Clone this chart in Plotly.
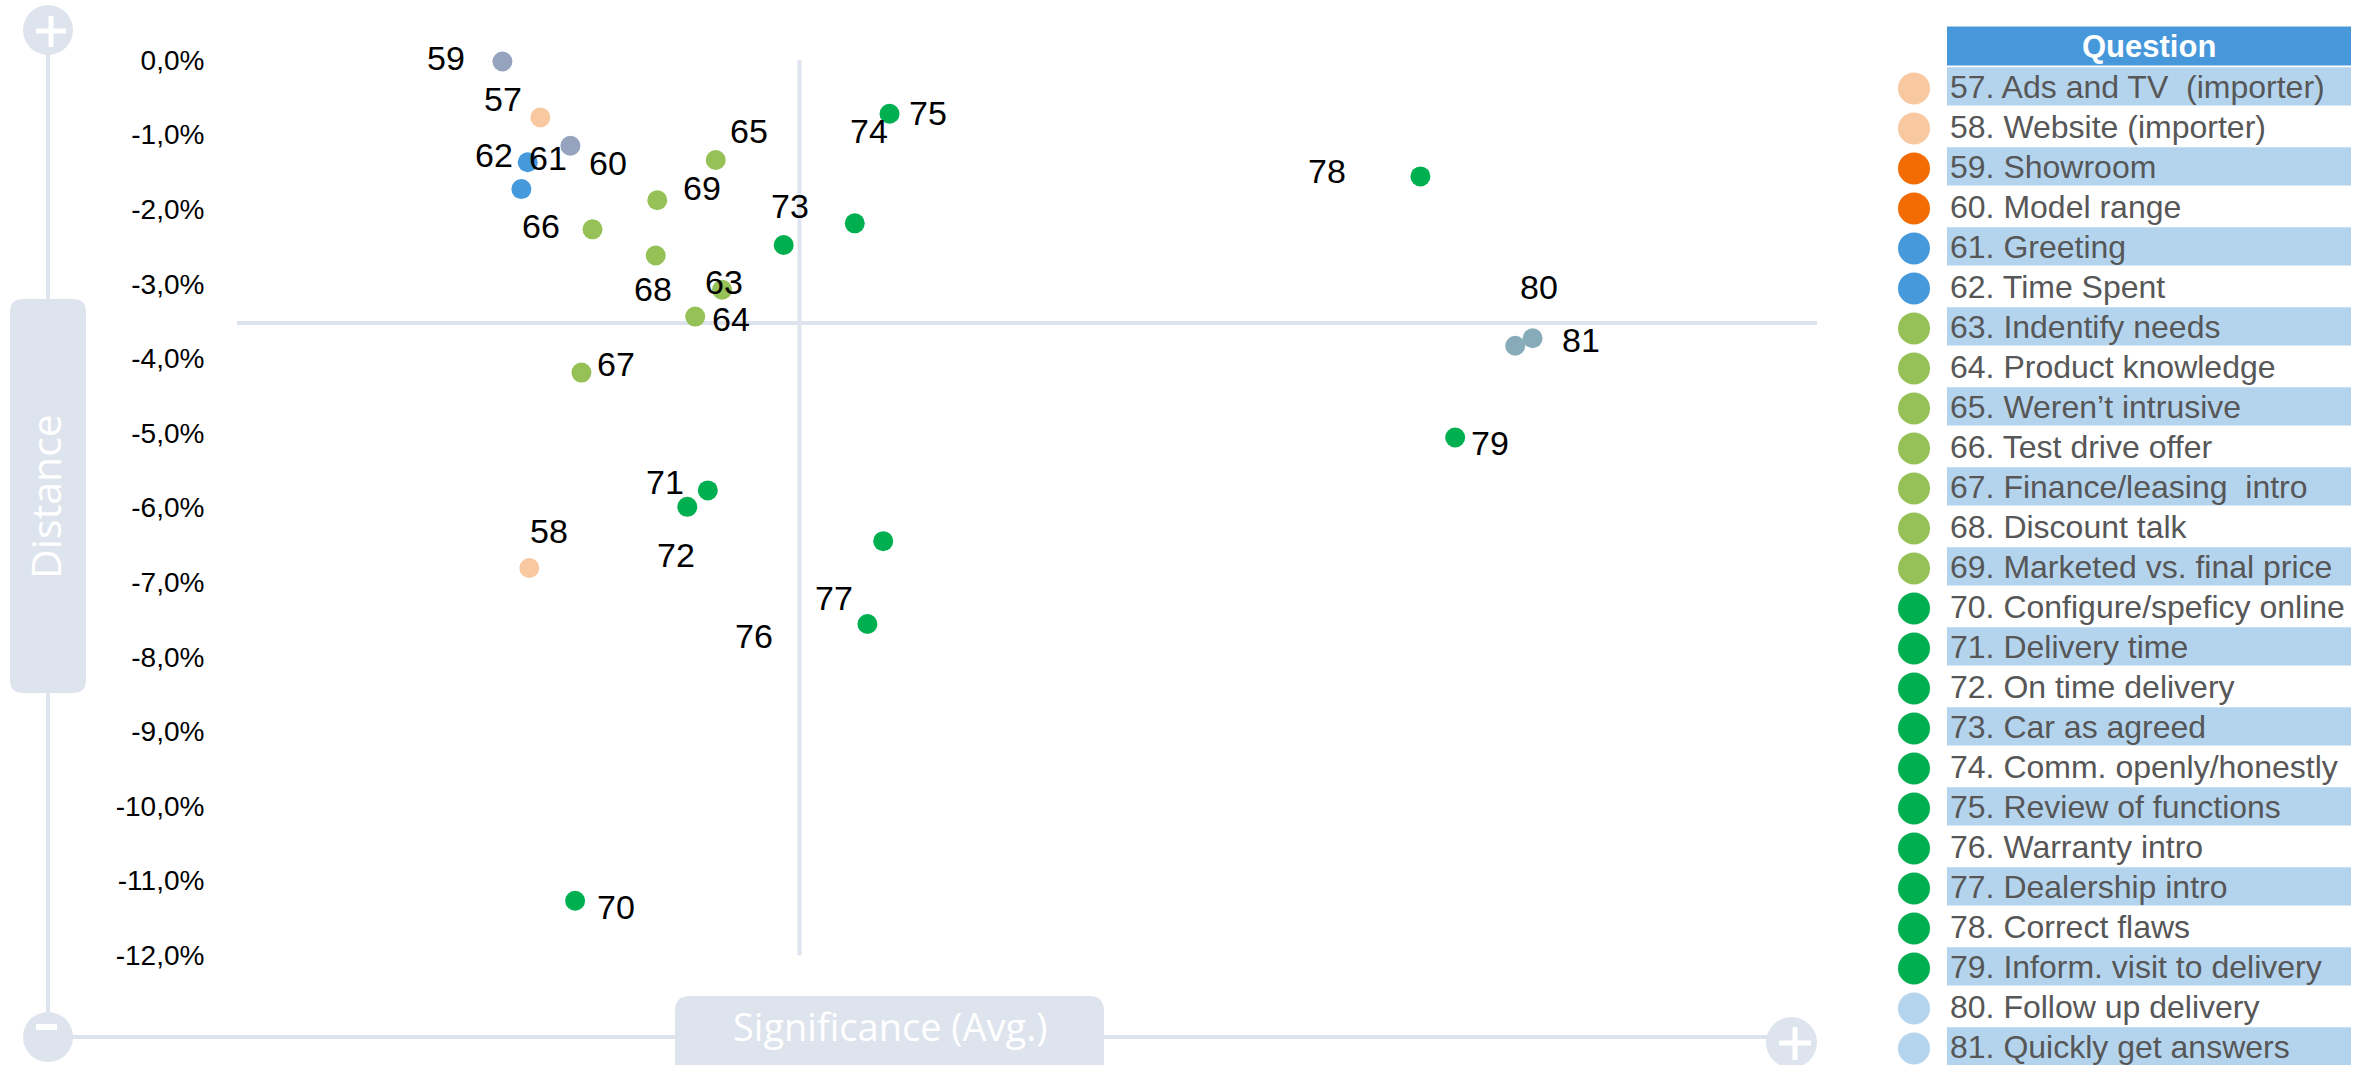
import plotly.graph_objects as go

# ---- data -----------------------------------------------------------------
question_ids = list(range(57, 82))
questions = [
    "57. Ads and TV \u00a0(importer)",
    "58. Website (importer)",
    "59. Showroom",
    "60. Model range",
    "61. Greeting",
    "62. Time Spent",
    "63. Indentify needs",
    "64. Product knowledge",
    "65. Weren\u2019t intrusive",
    "66. Test drive offer",
    "67. Finance/leasing \u00a0intro",
    "68. Discount talk",
    "69. Marketed vs. final price",
    "70. Configure/speficy online",
    "71. Delivery time",
    "72. On time delivery",
    "73. Car as agreed",
    "74. Comm. openly/honestly",
    "75. Review of functions",
    "76. Warranty intro",
    "77. Dealership intro",
    "78. Correct flaws",
    "79. Inform. visit to delivery",
    "80. Follow up delivery",
    "81. Quickly get answers",
]
# significance index (0-100) and distance in %
significance = [19.2, 18.5, 16.8, 21.1, 18.4, 18.0, 30.7, 29.0, 30.3, 22.5, 21.8, 26.5, 26.6,
                21.4, 29.8, 28.5, 34.6, 39.1, 41.3, 40.9, 39.9, 74.9, 77.1, 80.9, 82.0]
distance = [-0.77, -6.81, -0.02, -1.15, -1.37, -1.73, -3.08, -3.44, -1.34, -2.27, -4.19, -2.62, -1.88,
            -11.27, -5.77, -5.99, -2.48, -2.19, -0.72, -6.45, -7.56, -1.56, -5.06, -3.83, -3.73]
avg_significance = 35.6
avg_distance = -3.525
y_ticks = [0, -1, -2, -3, -4, -5, -6, -7, -8, -9, -10, -11, -12]

# ---- styles ---------------------------------------------------------------
PEACH, SLATE, BLUE, LIME, GREEN, TEAL = "#F8C9A1", "#95A3BE", "#4699DA", "#95C156", "#00B050", "#88ABBA"
ORANGE, PALE = "#F26C03", "#B5D5EE"
dot_colors = [PEACH] * 2 + [SLATE] * 2 + [BLUE] * 2 + [LIME] * 7 + [GREEN] * 10 + [TEAL] * 2
key_colors = [PEACH] * 2 + [ORANGE] * 2 + [BLUE] * 2 + [LIME] * 7 + [GREEN] * 10 + [PALE] * 2

# label offsets from each dot (px right, px down)
label_offsets = {
    57: (-37, -16), 58: (20, -35), 59: (-56, -1), 60: (38, 19), 61: (20, -2), 62: (-27, -32),
    63: (2, -6), 64: (36, 4), 65: (33, -27), 66: (-52, -1), 67: (35, -7), 68: (-3, 36),
    69: (45, -10), 70: (41, 8), 71: (-43, -6), 72: (-11, 50), 73: (6, -37), 74: (14, -90),
    75: (38, 1), 76: (-129, 97), 77: (-33, -24), 78: (-93, -3), 79: (35, 8), 80: (24, -57),
    81: (48, 4),
}

W, H = 2364, 1065
DECO = "#DEE4ED"
FONT = "Liberation Sans, Arial, sans-serif"


def px(x):
    return x / W


def py(y):
    return 1 - y / H


def rounded_box(x0, y0, x1, y1, r):
    pts = [
        ("M", (x0 + r, y0)), ("L", (x1 - r, y0)), ("Q", (x1, y0), (x1, y0 + r)),
        ("L", (x1, y1 - r)), ("Q", (x1, y1), (x1 - r, y1)), ("L", (x0 + r, y1)),
        ("Q", (x0, y1), (x0, y1 - r)), ("L", (x0, y0 + r)), ("Q", (x0, y0), (x0 + r, y0)),
    ]
    parts = []
    for cmd, *coords in pts:
        parts.append(cmd + " " + " ".join(f"{px(a):.5f},{py(b):.5f}" for a, b in coords))
    return " ".join(parts) + " Z"


fig = go.Figure()

# ---- scatter --------------------------------------------------------------
fig.add_trace(go.Scatter(
    x=significance, y=distance, mode="markers",
    marker=dict(size=20, color=dot_colors, line=dict(width=0)),
    text=questions, hoverinfo="text", showlegend=False,
))

annotations = []
for qid, sx, sy in zip(question_ids, significance, distance):
    dx, dy = label_offsets[qid]
    annotations.append(dict(
        x=sx, y=sy, xref="x", yref="y", text=str(qid), showarrow=False,
        xanchor="center", yanchor="middle",
        xshift=dx, yshift=-dy + 2, font=dict(family=FONT, size=34, color="#000000"),
    ))

# ---- question key (table) -------------------------------------------------
rows = list(range(len(questions)))
fig.add_trace(go.Scatter(
    x=[1914] * len(rows), y=[r + 0.06 for r in rows], mode="markers",
    marker=dict(size=32, color=key_colors, line=dict(width=0)),
    xaxis="x2", yaxis="y2", hoverinfo="skip", showlegend=False,
))

shapes = []
shapes.append(dict(type="rect", xref="x2", yref="y2", x0=1947, x1=2351, y0=-1.49, y1=-0.51,
                   fillcolor="#4698DB", line=dict(width=0)))
annotations.append(dict(x=2149, y=-1, xref="x2", yref="y2", text="<b>Question</b>", showarrow=False,
                        xanchor="center", yanchor="middle",
                        font=dict(family=FONT, size=31, color="#FFFFFF")))
for r, q in zip(rows, questions):
    if r % 2 == 0:
        shapes.append(dict(type="rect", xref="x2", yref="y2", x0=1947, x1=2351,
                           y0=r - 0.47, y1=r + 0.49, fillcolor="#B4D4EE", line=dict(width=0),
                           layer="below"))
    annotations.append(dict(x=1948, y=r + 0.03, xref="x2", yref="y2", text=q, showarrow=False,
                            xanchor="left", yanchor="middle",
                            font=dict(family=FONT, size=32, color="#575757")))

# ---- quadrant lines ----------------------------------------------------------
shapes.append(dict(type="line", xref="x domain", yref="y", x0=0, x1=1, y0=avg_distance, y1=avg_distance,
                   line=dict(color=DECO, width=4), layer="below"))
shapes.append(dict(type="line", xref="x", yref="y", x0=avg_significance, x1=avg_significance,
                   y0=min(y_ticks), y1=max(y_ticks), line=dict(color=DECO, width=4), layer="below"))

# ---- axis decorations -------------------------------------------------------
deco_line = dict(color=DECO, width=4)
shapes += [
    dict(type="line", xref="paper", yref="paper", x0=px(48), x1=px(48), y0=py(30), y1=py(1037), line=deco_line),
    dict(type="line", xref="paper", yref="paper", x0=px(48), x1=px(1791), y0=py(1037), y1=py(1037), line=deco_line),
    # top "+" knob
    dict(type="circle", xref="paper", yref="paper", x0=px(23), x1=px(73), y0=py(5), y1=py(55),
         fillcolor=DECO, line=dict(width=0)),
    dict(type="line", xref="paper", yref="paper", x0=px(36), x1=px(66), y0=py(31), y1=py(31),
         line=dict(color="white", width=5)),
    dict(type="line", xref="paper", yref="paper", x0=px(51), x1=px(51), y0=py(16), y1=py(47),
         line=dict(color="white", width=5)),
    # bottom-left "-" knob
    dict(type="circle", xref="paper", yref="paper", x0=px(23), x1=px(73), y0=py(1012), y1=py(1062),
         fillcolor=DECO, line=dict(width=0)),
    dict(type="rect", xref="paper", yref="paper", x0=px(36), x1=px(57), y0=py(1024), y1=py(1030),
         fillcolor="white", line=dict(width=0)),
    # bottom-right "+" knob
    dict(type="circle", xref="paper", yref="paper", x0=px(1766), x1=px(1817), y0=py(1017), y1=py(1068),
         fillcolor=DECO, line=dict(width=0)),
    dict(type="line", xref="paper", yref="paper", x0=px(1779), x1=px(1811), y0=py(1043), y1=py(1043),
         line=dict(color="white", width=5)),
    dict(type="line", xref="paper", yref="paper", x0=px(1795), x1=px(1795), y0=py(1027), y1=py(1060),
         line=dict(color="white", width=5)),
    # axis title boxes
    dict(type="path", xref="paper", yref="paper", path=rounded_box(10, 299, 86, 693, 13),
         fillcolor=DECO, line=dict(width=0)),
    dict(type="path", xref="paper", yref="paper", path=rounded_box(675, 996, 1104, 1090, 15),
         fillcolor=DECO, line=dict(width=0)),
]
annotations += [
    dict(x=px(45), y=py(497), xref="paper", yref="paper", text="Distance", textangle=-90, showarrow=False,
         xanchor="center", yanchor="middle",
         font=dict(family="Open Sans, sans-serif", size=41, color="#FFFFFF")),
    dict(x=px(890), y=py(1026), xref="paper", yref="paper", text="Significance (Avg.)", showarrow=False,
         xanchor="center", yanchor="middle",
         font=dict(family="Open Sans, sans-serif", size=38, color="#FFFFFF")),
]

# ---- axes ------------------------------------------------------------------
tick_text = [f"{v:.1f}".replace(".", ",") + "%" for v in y_ticks]
y_px_per_unit = 74.6
fig.update_layout(
    width=W, height=H,
    margin=dict(l=0, r=0, t=0, b=0),
    paper_bgcolor="white", plot_bgcolor="white",
    xaxis=dict(domain=[px(237), px(1817)], range=[0, 100], visible=False),
    yaxis=dict(domain=[0, 1], range=[-(H - 60) / y_px_per_unit, 60 / y_px_per_unit],
               tickvals=y_ticks, ticktext=tick_text, showgrid=False, zeroline=False, showline=False,
               ticks="outside", ticklen=26, tickcolor="rgba(0,0,0,0)",
               tickfont=dict(family=FONT, size=28, color="#000000")),
    xaxis2=dict(domain=[px(1880), 1], range=[1880, W], visible=False, anchor="y2"),
    yaxis2=dict(domain=[0, 1], range=[(H - 86) / 40, -86 / 40], visible=False, anchor="x2"),
    shapes=shapes,
    annotations=annotations,
    showlegend=False,
    hovermode="closest",
)

fig.write_html("out.html")
